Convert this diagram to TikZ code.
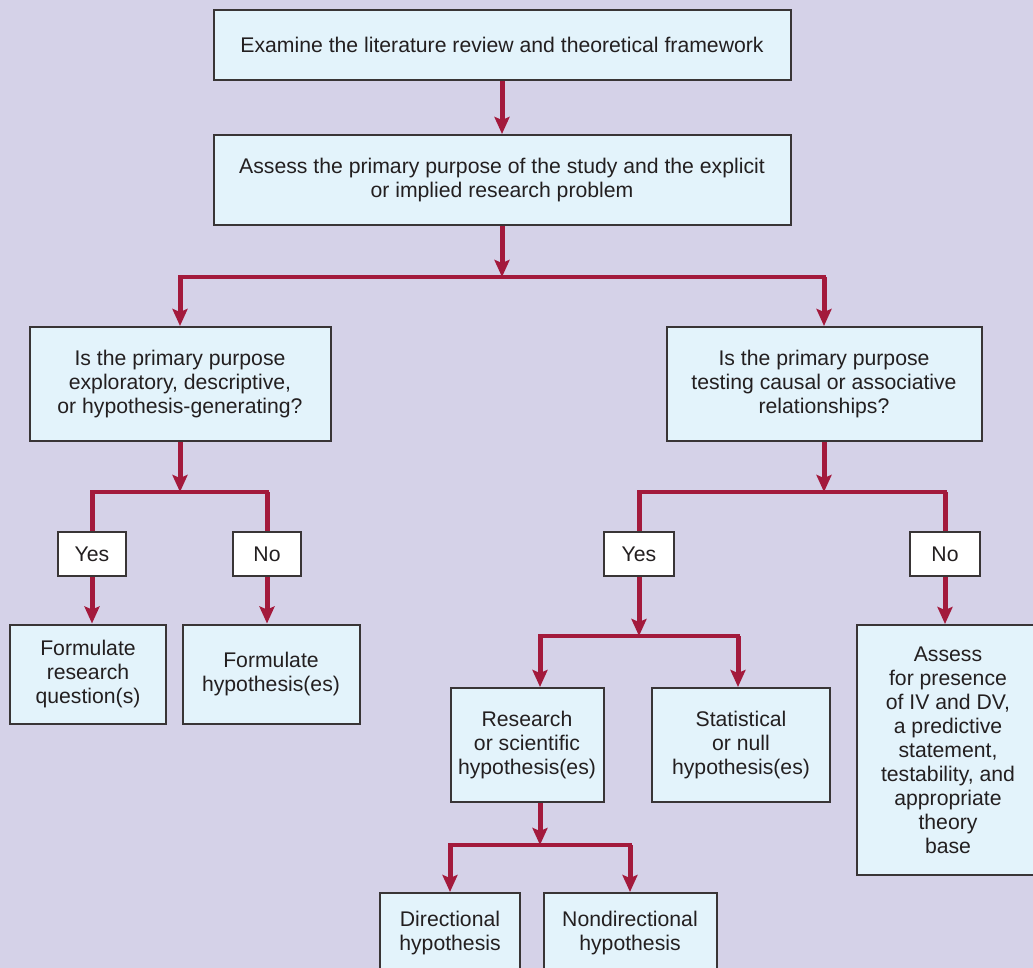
\documentclass[tikz,border=0pt]{standalone}
\usepackage{fontspec}
\setmainfont{Liberation Sans}
\usetikzlibrary{arrows.meta,positioning}

\definecolor{bg}{RGB}{213,210,232}
\definecolor{boxfill}{RGB}{227,243,251}
\definecolor{arr}{RGB}{163,26,60}
\definecolor{ink}{RGB}{35,31,32}

\begin{document}
\begin{tikzpicture}[x=1pt,y=-1pt,
  b/.style={draw=ink!90,line width=2pt,fill=boxfill,text=ink,inner sep=2pt,align=center,
    font=\fontsize{21.2}{24}\selectfont},
  yn/.style={b,fill=white,minimum width=68pt,minimum height=44pt},
  down/.style={draw=arr,line width=5pt,-{Stealth[length=17pt,width=15pt,inset=3pt]}},
  drop/.style={draw=arr,line width=5pt},
  bar/.style={draw=arr,line width=3.2pt,line cap=rect}]
  \fill[bg] (0,0) rectangle (1033,968);
  \clip (0,0) rectangle (1033,968);
  % boxes
  \node[b,minimum width=577pt,minimum height=70pt] (exam) at (502,45) {Examine the literature review and theoretical framework};
  \node[b,minimum width=577pt,minimum height=90pt] (assess) at (502,180) {Assess the primary purpose of the study and the explicit\\or implied research problem};
  \node[b,minimum width=301pt,minimum height=114pt] (lq) at (180,384) {Is the primary purpose\\exploratory, descriptive,\\or hypothesis-generating?};
  \node[b,minimum width=315pt,minimum height=114pt] (rq) at (824,384) {Is the primary purpose\\testing causal or associative\\relationships?};
  \node[yn] (yesl) at (92,554) {Yes};
  \node[yn] (nol) at (267,554) {No};
  \node[yn,minimum width=70pt] (yesr) at (639,554) {Yes};
  \node[yn,minimum width=70pt] (nor) at (945,554) {No};
  \node[b,minimum width=156pt,minimum height=99pt] (fq) at (88,674) {Formulate\\research\\question(s)};
  \node[b,minimum width=177pt,minimum height=99pt] (fh) at (271,674) {Formulate\\hypothesis(es)};
  \node[b,minimum width=153pt,minimum height=114pt] (rs) at (527,745) {Research\\or scientific\\hypothesis(es)};
  \node[b,minimum width=178pt,minimum height=114pt] (st) at (741,745) {Statistical\\or null\\hypothesis(es)};
  \node[b,minimum width=182pt,minimum height=250pt] (av) at (948,750) {Assess\\for presence\\of IV and DV,\\a predictive\\statement,\\testability, and\\appropriate\\theory\\base};
  \node[b,minimum width=140pt,minimum height=80pt] (dir) at (450,933) {Directional\\hypothesis};
  \node[b,minimum width=173pt,minimum height=80pt] (nd) at (630,933) {Nondirectional\\hypothesis};
  % junctions
  \coordinate (j1) at (502,277);
  \coordinate (j2) at (180,492);
  \coordinate (j3) at (824,492);
  \coordinate (j4) at (639,636);
  \coordinate (j5) at (540,845);
  % connectors
  \draw[down] (exam) -- (assess);
  \foreach \a/\b in {assess/j1, lq/j2, rq/j3, yesr/j4}
    {\draw[down] (\a) -- (\b);}
  \draw[down] (rs.south -| j5) -- (j5);
  \foreach \j/\l/\r in {j1/lq/rq, j2/yesl/nol, j3/yesr/nor, j5/dir/nd}
    {\draw[bar] (\j -| \l) -- (\j -| \r);}
  \draw[bar] (j4) ++(-99,0) coordinate (j4l) -- (j4);
  \draw[bar] (j4) -- ++(99,0) coordinate (j4r);
  \foreach \j/\n in {j1/lq, j1/rq, j5/dir, j5/nd}
    {\draw[down] (\j -| \n) -- (\n);}
  \draw[down] (j4l) -- (j4l |- rs.north);
  \draw[down] (j4r) -- (j4r |- st.north);
  \foreach \j/\n in {j2/yesl, j2/nol, j3/yesr, j3/nor}
    {\draw[drop] (\j -| \n) -- (\n);}
  \draw[down] (yesl) -- (fq.north -| yesl);
  \draw[down] (nol) -- (fh.north -| nol);
  \draw[down] (nor) -- (av.north -| nor);
\end{tikzpicture}
\end{document}
